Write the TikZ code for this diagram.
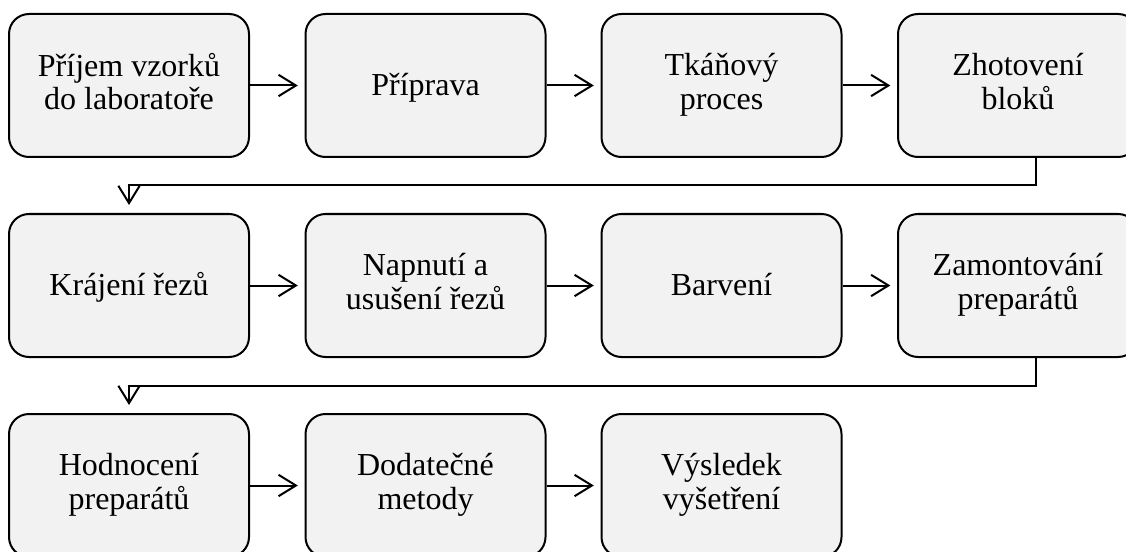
\documentclass[tikz,border=0pt]{standalone}
\usepackage{fontspec}
\setmainfont{Liberation Serif}
\usepackage{tikz}
\usetikzlibrary{calc, arrows.meta, positioning}
\definecolor{boxfill}{HTML}{F2F2F2}
\newcommand{\stagefont}{\fontsize{24}{25}\selectfont}
\newcommand{\stagestrut}{\rule[-6pt]{0pt}{27pt}}

\begin{document}
\begin{tikzpicture}[x=0.75pt, y=-0.75pt,
    stage/.style={draw, line width=1.5pt, rounded corners=15pt, fill=boxfill,
        minimum width=180pt, minimum height=107.25pt, align=center, font=\stagefont,
        execute at begin node=\stagestrut, execute at end node=\stagestrut},
    link/.style={line width=1.5pt, -{Straight Barb[length=13pt,width=16pt]}, shorten >=5pt}]
        \clip (0,0) rectangle (1126,552);
        \def\colA{129};
        \def\colB{425.5};
        \def\colC{721.5};
        \def\colD{1018};

        % first row
        \node[stage] (prijem) at (\colA, 85.5){Příjem vzorků\\do laboratoře};
        \node[stage] (priprava) at (\colB, 85.5){Příprava};
        \node[stage] (tkan) at (\colC, 85.5){Tkáňový\\proces};
        \node[stage] (bloky) at (\colD, 85.5){Zhotovení\\bloků};

        % second row
        \node[stage] (krajeni) at (\colA, 285.5){Krájení řezů};
        \node[stage] (napnuti) at (\colB, 285.5){Napnutí a\\usušení řezů};
        \node[stage] (barveni) at (\colC, 285.5){Barvení};
        \node[stage] (montaz) at (\colD, 285.5){Zamontování\\preparátů};

        % third row
        \node[stage] (hodnoceni) at (\colA, 485.5){Hodnocení\\preparátů};
        \node[stage] (metody) at (\colB, 485.5){Dodatečné\\metody};
        \node[stage] (vysledek) at (\colC, 485.5){Výsledek\\vyšetření};

        \draw[link] (prijem) -- (priprava);
        \draw[link] (priprava) -- (tkan);
        \draw[link] (tkan) -- (bloky);
        \draw[link] (krajeni) -- (napnuti);
        \draw[link] (napnuti) -- (barveni);
        \draw[link] (barveni) -- (montaz);
        \draw[link] (hodnoceni) -- (metody);
        \draw[link] (metody) -- (vysledek);

        % row changes
        \coordinate (turn_1) at ($(bloky.south)!0.5!(krajeni.north)$);
        \draw[link, shorten >=6pt] ([xshift=13.5pt]bloky.south) |- (turn_1) -| (krajeni.north);
        \coordinate (turn_2) at ($(montaz.south)!0.5!(hodnoceni.north)$);
        \draw[link, shorten >=6pt] ([xshift=13.5pt]montaz.south) |- (turn_2) -| (hodnoceni.north);
\end{tikzpicture}
\end{document}
